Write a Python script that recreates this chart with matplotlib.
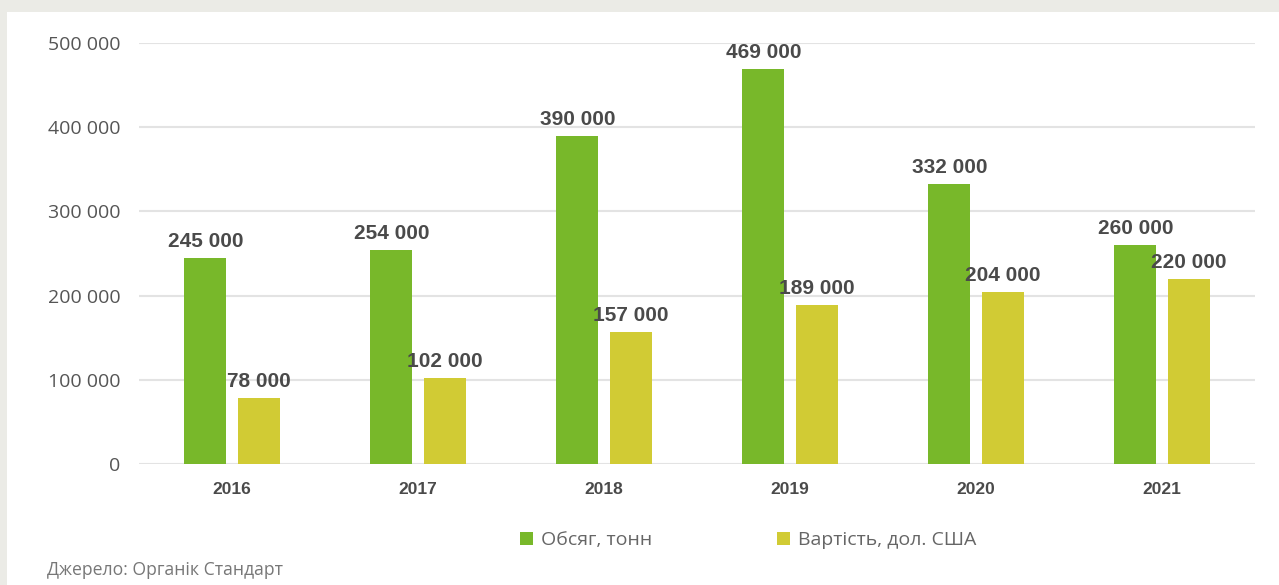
import numpy as np
import matplotlib.pyplot as plt
from matplotlib.patches import Rectangle

years = ["2016", "2017", "2018", "2019", "2020", "2021"]
volume = [245000, 254000, 390000, 469000, 332000, 260000]
value = [78000, 102000, 157000, 189000, 204000, 220000]
series_names = ["Обсяг, тонн", "Вартість, дол. США"]
yticks = [0, 100000, 200000, 300000, 400000, 500000]

green = "#78b82a"
yellow = "#d1cb34"
label_font = ["Liberation Sans", "DejaVu Sans"]


def fmt(v):
    return f"{v:,}".replace(",", " ")


fig = plt.figure(figsize=(12.79, 5.85), dpi=100, facecolor="#ebebe6")
# white card on the grey page background
fig.patches.append(Rectangle((7 / 1279, 0), 1, 1 - 12 / 585, transform=fig.transFigure,
                             facecolor="white", edgecolor="none", zorder=-5))
ax = fig.add_axes([139 / 1279, 1 - 464 / 585, 1116 / 1279, 421 / 585])
ax.set_facecolor("none")

x = np.arange(len(years))
w = 0.226
off = 0.143
b1 = ax.bar(x - off, volume, w, color=green, zorder=3)
b2 = ax.bar(x + off, value, w, color=yellow, zorder=3)

for bars, vals in ((b1, volume), (b2, value)):
    for b, v in zip(bars, vals):
        ax.annotate(fmt(v), (b.get_x() + b.get_width() / 2, v), xytext=(0, 8),
                    textcoords="offset points", ha="center", va="baseline",
                    fontsize=15, fontweight="bold", color="#4a4a4a", family=label_font)

ax.set_xlim(-0.5, len(years) - 0.5)
ax.set_ylim(0, 500000)
ax.set_yticks(yticks)
ax.set_yticklabels([fmt(t) for t in yticks], fontsize=14, color="#555555", family="Open Sans")
ax.set_xticks(x)
ax.set_xticklabels(years, fontsize=12.5, fontweight="bold", color="#4a4a4a", family=label_font)
ax.tick_params(axis="both", length=0)
ax.tick_params(axis="y", pad=13.5)
ax.tick_params(axis="x", pad=13)
ax.grid(axis="y", color="#e3e3e3", linewidth=1.5, zorder=0)
for s in ax.spines.values():
    s.set_visible(False)

leg = fig.legend([b1, b2], series_names, loc="center", bbox_to_anchor=(748 / 1279, 1 - 540 / 585),
                 ncol=2, frameon=False, handlelength=0.67, handleheight=0.67, handletextpad=0.42,
                 columnspacing=6.4, borderpad=0, prop={"family": "Open Sans", "size": 14})
for t in leg.get_texts():
    t.set_color("#666666")

fig.text(47 / 1279, 1 - 570 / 585, "Джерело: Органік Стандарт", fontsize=12.7, color="#777777",
         family="Open Sans", va="center", ha="left")

fig.savefig("out.png", dpi=100, facecolor=fig.get_facecolor())
